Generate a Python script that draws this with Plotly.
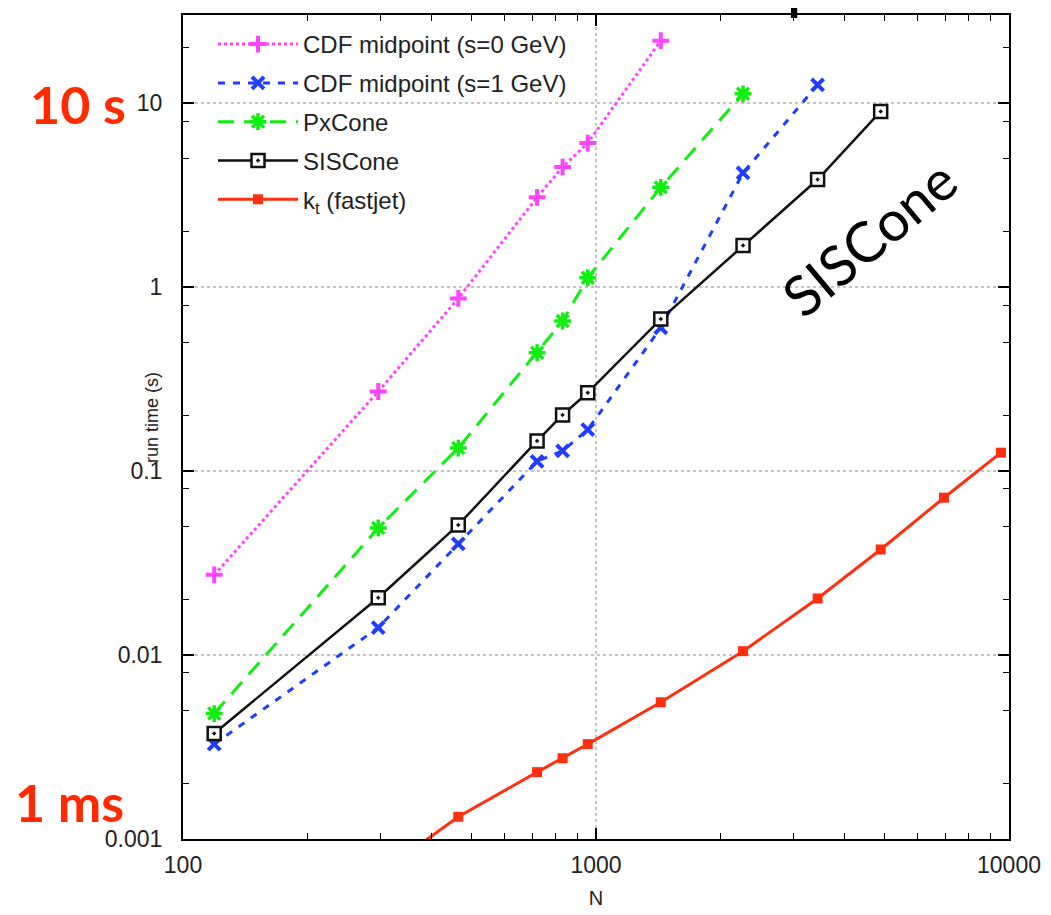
import plotly.graph_objects as go

# ---- data ----
cdf0_N = [119, 297, 464, 720, 830, 955, 1435]
cdf0_t = [0.0273, 0.271, 0.869, 3.08, 4.50, 6.08, 21.9]

cdf1_N = [119, 297, 464, 720, 830, 955, 1435, 2270, 3440]
cdf1_t = [0.00328, 0.0141, 0.0402, 0.113, 0.129, 0.168, 0.602, 4.18, 12.6]

pxcone_N = [119, 297, 464, 720, 830, 955, 1435, 2270]
pxcone_t = [0.00481, 0.0491, 0.1335, 0.4405, 0.655, 1.125, 3.49, 11.26]

siscone_N = [119, 297, 464, 720, 830, 955, 1435, 2270, 3440, 4890]
siscone_t = [0.00375, 0.0205, 0.0510, 0.146, 0.202, 0.267, 0.671, 1.686, 3.85, 9.03]

kt_N = [297, 464, 720, 830, 955, 1435, 2270, 3440, 4890, 6960, 9560]
kt_t = [0.00064, 0.00132, 0.00231, 0.00275, 0.00328, 0.00554, 0.0105, 0.0203, 0.0375, 0.0717, 0.126]

x_tickvals = [100, 1000, 10000]
x_ticktext = ["100", "1000", "10000"]
y_tickvals = [0.001, 0.01, 0.1, 1, 10]
y_ticktext = ["0.001", "0.01", "0.1", "1", "10"]

series_names = ["CDF midpoint (s=0 GeV)", "CDF midpoint (s=1 GeV)", "PxCone",
                "SISCone", "k<sub>t</sub> (fastjet)"]

# ---- layout geometry (page body has an 8px margin) ----
OFF = 8
W, H = 1051, 915
L, R, T, B = 183 - OFF, 42 + OFF, 13 - OFF, 76 + OFF
PW, PH = W - L - R, H - T - B


def px(xp):
    return (xp - OFF - L) / PW


def py(yp):
    return (H - B - (yp - OFF)) / PH


fig = go.Figure()

MAG = "#ff44ff"
BLU = "#1f3dff"
GRN = "#11ee11"
RED = "#ff3010"

fig.add_trace(go.Scatter(
    x=cdf0_N, y=cdf0_t, name=series_names[0], mode="lines+markers", legendgroup="a",
    line=dict(color=MAG, width=3, dash="dot"),
    marker=dict(symbol="cross-thin-open", size=12, color=MAG, line=dict(color=MAG, width=4))))
fig.add_trace(go.Scatter(
    x=cdf1_N, y=cdf1_t, name=series_names[1], mode="lines+markers", legendgroup="b",
    line=dict(color=BLU, width=3, dash="7px,8px"),
    marker=dict(symbol="x-thin-open", size=12, color=BLU, line=dict(color=BLU, width=4))))
fig.add_trace(go.Scatter(
    x=pxcone_N, y=pxcone_t, name=series_names[2], mode="lines+markers", legendgroup="c",
    line=dict(color=GRN, width=3, dash="16px,10px"),
    marker=dict(symbol="asterisk-open", size=14, color=GRN, line=dict(color=GRN, width=3.5))))
fig.add_trace(go.Scatter(
    x=siscone_N, y=siscone_t, name=series_names[3], mode="lines+markers", legendgroup="d",
    line=dict(color="#111111", width=2.5),
    marker=dict(symbol="square-dot", size=13, color="white", line=dict(color="#111111", width=2.5))))
fig.add_trace(go.Scatter(
    x=kt_N, y=kt_t, name=series_names[4], mode="lines+markers", legendgroup="e",
    line=dict(color=RED, width=3),
    marker=dict(symbol="square", size=10, color=RED, line=dict(width=0))))

FONT = "Liberation Sans, Arial"
axis_common = dict(
    type="log", showline=True, linecolor="black", linewidth=2, mirror="ticks",
    ticks="inside", ticklen=11, tickwidth=1.5, tickcolor="black",
    showgrid=True, gridcolor="#c4c4c4", griddash="dot", gridwidth=1.5,
    zeroline=False, tickfont=dict(family=FONT, size=23, color="#222222"),
)

x_minor = [m * 10 ** d for d in (2, 3) for m in range(2, 10)]
y_minor = [m * 10.0 ** d for d in (-3, -2, -1, 0, 1) for m in (2, 5, 8)]

fig.update_xaxes(
    **axis_common, range=[2, 4], tickmode="array", tickvals=x_tickvals, ticktext=x_ticktext,
    minor=dict(tickmode="array", tickvals=x_minor, ticks="inside", ticklen=6, tickcolor="black",
               tickwidth=1.2, showgrid=False),
    ticklabelstandoff=4,
    title=dict(text="N", font=dict(family=FONT, size=20, color="#222222"), standoff=14),
)
fig.update_yaxes(
    **axis_common, range=[-3, 1.48], tickmode="array", tickvals=y_tickvals, ticktext=y_ticktext,
    minor=dict(tickmode="array", tickvals=y_minor, ticks="inside", ticklen=6, tickcolor="black",
               tickwidth=1.2, showgrid=False),
    ticklabelstandoff=14,
)

fig.update_layout(
    width=W, height=H, margin=dict(l=L, r=R, t=T, b=B, pad=0),
    paper_bgcolor="white", plot_bgcolor="white",
    showlegend=True,
    legend=dict(x=px(213), y=py(20), xanchor="left", yanchor="top", bgcolor="rgba(255,255,255,0)",
                font=dict(family=FONT, size=24, color="#222222"),
                tracegroupgap=4.6, itemwidth=80),
    annotations=[
        dict(text="run time (s)", xref="paper", yref="paper", x=px(152), y=py(417),
             xanchor="center", yanchor="middle", textangle=-90,
             showarrow=False, font=dict(family=FONT, size=18, color="#222222")),
        dict(text="<b>10 s</b>", xref="paper", yref="paper", x=px(78), y=py(102),
             xanchor="center", yanchor="middle",
             showarrow=False, font=dict(family="Lato", size=52, color="#ff2a00")),
        dict(text="<b>1 ms</b>", xref="paper", yref="paper", x=px(70), y=py(802),
             xanchor="center", yanchor="middle",
             showarrow=False, font=dict(family="Lato", size=52, color="#ff2a00")),
        dict(text="SISCone", xref="paper", yref="paper", x=px(869), y=py(236),
             xanchor="center", yanchor="middle",
             showarrow=False, textangle=-40, font=dict(family="Lato", size=56, color="black")),
        dict(text="p", xref="paper", yref="paper", x=px(805), y=py(-23),
             xanchor="center", yanchor="middle",
             showarrow=False, font=dict(family="Lato", size=70, color="black")),
    ],
)

fig.write_html("out.html")
